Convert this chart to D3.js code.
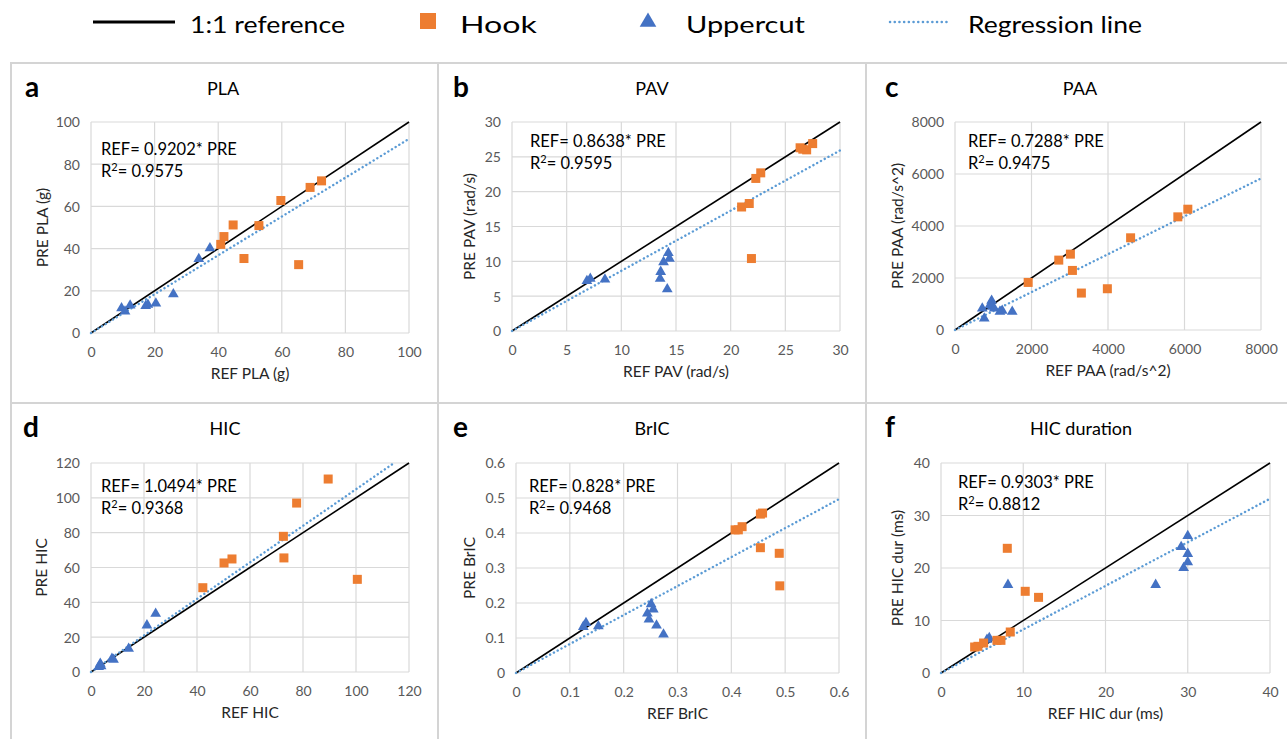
<!DOCTYPE html>
<html>
<head>
<meta charset="utf-8">
<script src="https://cdn.jsdelivr.net/npm/d3@7"></script>
<style>
  html, body { margin: 0; padding: 0; background: #fff; }
  svg { display: block; }
  text { font-family: Lato, "Open Sans", sans-serif; }
</style>
</head>
<body>
<svg id="chart" width="1287" height="739"></svg>
<script>
// ---------------- DATA ----------------
const panelLetters = ["a", "b", "c", "d", "e", "f"];
const panelTitles = ["PLA", "PAV", "PAA", "HIC", "BrIC", "HIC duration"];
const xTitles = ["REF PLA (g)", "REF PAV (rad/s)", "REF PAA (rad/s^2)", "REF HIC", "REF BrIC", "REF HIC dur (ms)"];
const yTitles = ["PRE PLA (g)", "PRE PAV (rad/s)", "PRE PAA (rad/s^2)", "PRE HIC", "PRE BrIC", "PRE HIC dur (ms)"];
const axisMax = [100, 30, 8000, 120, 0.6, 40];
const tickStep = [20, 5, 2000, 20, 0.1, 10];
const eqLabels = ["REF= 0.9202* PRE", "REF= 0.8638* PRE", "REF= 0.7288* PRE", "REF= 1.0494* PRE", "REF= 0.828* PRE", "REF= 0.9303* PRE"];
const r2Labels = ["0.9575", "0.9595", "0.9475", "0.9368", "0.9468", "0.8812"];
// slope of the dotted regression line as drawn
const regSlopes = [0.9202, 0.8638, 0.7288, 1.0494, 0.828, 0.83];

// [REF, PRE] pairs
const plaHook = [[40.8, 42.0], [41.8, 45.7], [44.7, 51.2], [48.1, 35.3], [52.8, 50.9], [59.7, 62.8], [65.3, 32.4], [68.9, 69.0], [72.5, 72.1]];
const plaUppercut = [[9.6, 11.8], [10.7, 10.2], [12.3, 13.1], [17.2, 12.8], [17.9, 13.4], [20.4, 14.0], [25.9, 18.4], [33.9, 35.1], [37.4, 40.2]];

const pavHook = [[21.0, 17.8], [21.7, 18.3], [21.9, 10.4], [22.3, 21.9], [22.75, 22.7], [26.35, 26.3], [26.6, 26.1], [26.95, 26.0], [27.5, 26.9]];
const pavUppercut = [[6.85, 7.2], [7.16, 7.5], [8.5, 7.4], [13.55, 7.5], [13.6, 8.5], [13.86, 9.9], [14.2, 6.0], [14.3, 11.2], [14.4, 10.4]];

const paaHook = [[1913, 1830], [2713, 2688], [3017, 2918], [3070, 2291], [3304, 1421], [3983, 1587], [4591, 3546], [5826, 4352], [6087, 4646]];
const paaUppercut = [[713, 832], [765, 448], [913, 960], [957, 1126], [974, 896], [1026, 832], [1174, 704], [1235, 742], [1496, 704]];

const hicHook = [[42.2, 48.4], [50.2, 62.6], [53.2, 64.9], [72.6, 77.9], [72.8, 65.5], [77.6, 97.0], [89.5, 110.8], [100.5, 53.2]];
const hicUppercut = [[2.9, 2.9], [3.5, 4.8], [3.8, 3.4], [7.9, 7.7], [8.5, 7.1], [14.2, 13.4], [21.1, 26.8], [24.4, 33.5]];

const bricHook = [[0.407, 0.409], [0.413, 0.409], [0.420, 0.418], [0.454, 0.454], [0.458, 0.457], [0.454, 0.358], [0.489, 0.342], [0.490, 0.249]];
const bricUppercut = [[0.125, 0.132], [0.130, 0.143], [0.153, 0.134], [0.244, 0.170], [0.247, 0.153], [0.251, 0.197], [0.255, 0.182], [0.261, 0.136], [0.274, 0.110]];

const durHook = [[4.09, 4.95], [4.49, 5.08], [5.18, 5.71], [6.80, 6.22], [7.29, 6.22], [8.06, 23.75], [8.42, 7.81], [10.24, 15.56], [11.86, 14.41]];
const durUppercut = [[5.59, 6.35], [5.87, 6.67], [8.14, 16.8], [26.1, 16.8], [29.2, 24.0], [29.5, 20.0], [30.0, 26.1], [30.0, 22.7], [30.0, 21.1]];

const hookSets = [plaHook, pavHook, paaHook, hicHook, bricHook, durHook];
const uppercutSets = [plaUppercut, pavUppercut, paaUppercut, hicUppercut, bricUppercut, durUppercut];

const legendLabels = ["1:1 reference", "Hook", "Uppercut", "Regression line"];

// ---------------- LAYOUT ----------------
const plotBoxes = [
  { l: 91, r: 409, t: 122, b: 333 },
  { l: 512, r: 840, t: 122, b: 331 },
  { l: 955, r: 1261, t: 122, b: 330 },
  { l: 91, r: 409, t: 463, b: 672 },
  { l: 516, r: 839, t: 463, b: 673 },
  { l: 941, r: 1270, t: 463, b: 673 }
];
const titleX = [223, 652, 1080, 225, 652, 1081];
const letterX = [25, 453, 885, 23, 453, 885];
const yTitleX = [43, 470, 898, 42, 470, 898];
const eqOffset = [[10, 33], [18, 25], [13, 25], [10, 29], [13, 29], [17, 25]];
const legendTextX = [190, 460, 686, 968];
const legendTextLen = [155, 77, 119, 174];

const C_HOOK = "#ED7D31", C_UP = "#4472C4", C_REG = "#5B9BD5";

const svg = d3.select("#chart");

// panel frame lines
const frame = svg.append("g").attr("stroke", "#d4d4d4").attr("stroke-width", 2);
frame.append("line").attr("x1", 10).attr("x2", 1287).attr("y1", 63).attr("y2", 63);
frame.append("line").attr("x1", 10).attr("x2", 1287).attr("y1", 403).attr("y2", 403);
[11, 438, 866].forEach(x => frame.append("line").attr("x1", x).attr("x2", x).attr("y1", 63).attr("y2", 739));

// ---------------- LEGEND ----------------
const lg = svg.append("g");
lg.append("line").attr("x1", 93).attr("x2", 175).attr("y1", 22).attr("y2", 22).attr("stroke", "#000").attr("stroke-width", 3);
lg.append("rect").attr("x", 420).attr("y", 13).attr("width", 16).attr("height", 16).attr("fill", C_HOOK);
lg.append("path").attr("d", d3.symbol().type(d3.symbolTriangle).size(120)()).attr("transform", "translate(648,22)").attr("fill", C_UP);
lg.append("line").attr("x1", 890).attr("x2", 950).attr("y1", 22).attr("y2", 22)
  .attr("stroke", C_REG).attr("stroke-width", 2.5).attr("stroke-dasharray", "0.1 4.6").attr("stroke-linecap", "round");
legendLabels.forEach((t, k) => {
  lg.append("text").attr("x", legendTextX[k]).attr("y", 33).attr("font-size", 24).attr("fill", "#000")
    .attr("textLength", legendTextLen[k]).attr("lengthAdjust", "spacingAndGlyphs").text(t);
});

// ---------------- PANELS ----------------
const fmt = [d3.format("d"), d3.format("d"), d3.format("d"), d3.format("d"), v => (v === 0 ? "0" : d3.format(".1f")(v)), d3.format("d")];

panelLetters.forEach((letter, i) => {
  const box = plotBoxes[i];
  const top = i < 3 ? 63 : 403;
  const maxV = axisMax[i];
  const x = d3.scaleLinear().domain([0, maxV]).range([box.l, box.r]);
  const y = d3.scaleLinear().domain([0, maxV]).range([box.b, box.t]);
  const ticks = d3.range(0, maxV + tickStep[i] / 2, tickStep[i]).map(v => +v.toFixed(6));
  const g = svg.append("g");

  // letter & title
  g.append("text").attr("x", letterX[i]).attr("y", top + 34).attr("font-size", 28).attr("font-weight", 700).attr("fill", "#000").text(letter);
  g.append("text").attr("x", titleX[i]).attr("y", top + 32).attr("font-size", 18).attr("text-anchor", "middle").attr("fill", "#000").text(panelTitles[i]);

  // gridlines
  const grid = g.append("g").attr("stroke", "#d9d9d9").attr("stroke-width", 1.2);
  ticks.forEach(v => {
    grid.append("line").attr("x1", box.l).attr("x2", box.r).attr("y1", y(v)).attr("y2", y(v));
    grid.append("line").attr("x1", x(v)).attr("x2", x(v)).attr("y1", box.t).attr("y2", box.b);
  });

  // axes using d3 axis generators (labels only)
  const xAxis = d3.axisBottom(x).tickValues(ticks).tickSize(0).tickPadding(0).tickFormat(fmt[i]);
  const yAxis = d3.axisLeft(y).tickValues(ticks).tickSize(0).tickPadding(0).tickFormat(fmt[i]);
  const xg = g.append("g").attr("transform", `translate(0,${box.b})`).call(xAxis);
  const yg = g.append("g").attr("transform", `translate(${box.l},0)`).call(yAxis);
  [xg, yg].forEach(a => {
    a.select(".domain").remove();
    a.selectAll("text").attr("font-family", "Lato, 'Open Sans', sans-serif").attr("font-size", 14).attr("fill", "#595959");
  });
  xg.selectAll("text").attr("dy", null).attr("y", 24);
  yg.selectAll("text").attr("x", -11).attr("dy", "0.35em");

  // axis titles
  g.append("text").attr("x", (box.l + box.r) / 2).attr("y", box.b + 46).attr("font-size", 15.5).attr("text-anchor", "middle").attr("fill", "#262626").text(xTitles[i]);
  g.append("text").attr("transform", `translate(${yTitleX[i] + 5},${(box.t + box.b) / 2}) rotate(-90)`).attr("font-size", 15.5).attr("text-anchor", "middle").attr("fill", "#262626").text(yTitles[i]);

  // 1:1 reference
  g.append("line").attr("x1", x(0)).attr("y1", y(0)).attr("x2", x(maxV)).attr("y2", y(maxV)).attr("stroke", "#000").attr("stroke-width", 1.6);

  // regression line (clipped to plot area)
  const s = regSlopes[i];
  const xEnd = Math.min(maxV, maxV / s);
  g.append("line").attr("x1", x(0)).attr("y1", y(0)).attr("x2", x(xEnd)).attr("y2", y(s * xEnd))
    .attr("stroke", C_REG).attr("stroke-width", 2.4).attr("stroke-dasharray", "0.1 4.2").attr("stroke-linecap", "round");

  // markers
  g.append("g").selectAll("path").data(uppercutSets[i]).join("path")
    .attr("d", d3.symbol().type(d3.symbolTriangle).size(50)())
    .attr("transform", d => `translate(${x(d[0])},${y(d[1])})`)
    .attr("fill", C_UP);
  g.append("g").selectAll("rect").data(hookSets[i]).join("rect")
    .attr("x", d => x(d[0]) - 4.5).attr("y", d => y(d[1]) - 4.5)
    .attr("width", 9).attr("height", 9).attr("fill", C_HOOK);

  // equation
  const ex = box.l + eqOffset[i][0], ey = box.t + eqOffset[i][1];
  g.append("text").attr("x", ex).attr("y", ey).attr("font-size", 16.5).attr("fill", "#000").text(eqLabels[i]);
  const r2 = g.append("text").attr("x", ex).attr("y", ey + 22).attr("font-size", 16.5).attr("fill", "#000");
  r2.append("tspan").text("R");
  r2.append("tspan").attr("font-size", 11).attr("dy", -6).text("2");
  r2.append("tspan").attr("dy", 6).text("= " + r2Labels[i]);
});
</script>
</body>
</html>
